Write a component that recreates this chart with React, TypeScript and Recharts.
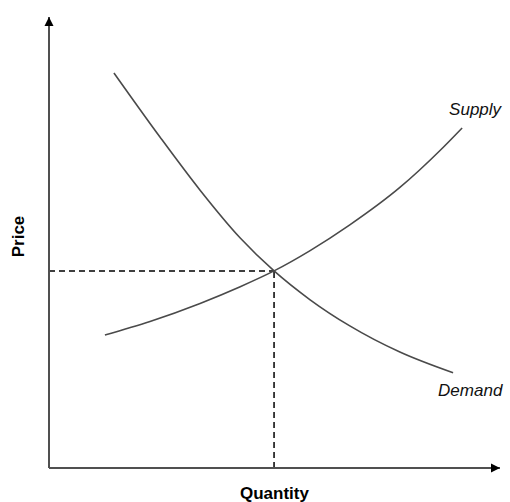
import { LineChart, Line, XAxis, YAxis, ReferenceLine, ReferenceDot } from "recharts";

// quantity/price on a 0-10 scale
const demandQty = [1.44, 2.46, 3.35, 4.24, 4.99, 5.79, 6.67, 7.78, 8.96];
const demandPrice = [8.76, 7.34, 6.16, 5.1, 4.37, 3.73, 3.15, 2.57, 2.11];
const supplyQty = [1.24, 2.24, 3.35, 4.24, 4.99, 5.79, 6.67, 7.78, 8.67, 9.16];
const supplyPrice = [2.95, 3.25, 3.65, 4.02, 4.37, 4.82, 5.39, 6.22, 7.04, 7.54];
const eqQty = 4.99;
const eqPrice = 4.37;
const axisMax = 10;

const demand = demandQty.map((q, i) => ({ q, p: demandPrice[i] }));
const supply = supplyQty.map((q, i) => ({ q, p: supplyPrice[i] }));

const FONT = "'Liberation Sans', Arial, sans-serif";
const AXIS = "#505050";

function endLabel(text: string, count: number, dx: number, dy: number, anchor: "start" | "middle") {
  return (props: any) => {
    if (props.index !== count - 1) return null;
    return (
      <text key="end" x={props.x + dx} y={props.y + dy} textAnchor={anchor} fontFamily={FONT} fontStyle="italic" fontSize={17} fill="#111">
        {text}
      </text>
    );
  };
}

function QtyLabel({ viewBox }: any) {
  return (
    <text x={viewBox.x + viewBox.width / 2} y={viewBox.y + viewBox.height - 3} textAnchor="middle" fontFamily={FONT} fontWeight="bold" fontSize={17} fill="#000">
      Quantity
    </text>
  );
}

function PriceLabel({ viewBox }: any) {
  const x = viewBox.x + 24;
  const y = viewBox.y + viewBox.height / 2 - 6;
  return (
    <text x={x} y={y} transform={`rotate(-90, ${x}, ${y})`} textAnchor="middle" fontFamily={FONT} fontWeight="bold" fontSize={17} fill="#000">
      Price
    </text>
  );
}

const UpArrow = ({ cx, cy }: any) => <path d={`M${cx},${cy} L${cx - 4.5},${cy + 9} L${cx + 4.5},${cy + 9} Z`} fill="#000" />;
const RightArrow = ({ cx, cy }: any) => <path d={`M${cx},${cy} L${cx - 9},${cy - 4.5} L${cx - 9},${cy + 4.5} Z`} fill="#000" />;

export default function App() {
  return (
    <div style={{ position: "absolute", left: 0, top: 0, width: 510, height: 502, background: "#fff" }}>
      <LineChart width={510} height={502} margin={{ top: 17, right: 10, left: 0, bottom: 0 }}>
        <XAxis
          type="number"
          dataKey="q"
          domain={[0, axisMax]}
          allowDataOverflow
          height={34}
          tick={false}
          tickLine={false}
          axisLine={{ stroke: AXIS, strokeWidth: 2 }}
          label={<QtyLabel />}
        />
        <YAxis
          type="number"
          dataKey="p"
          domain={[0, axisMax]}
          allowDataOverflow
          width={49}
          tick={false}
          tickLine={false}
          axisLine={{ stroke: AXIS, strokeWidth: 2 }}
          label={<PriceLabel />}
        />
        <ReferenceLine segment={[{ x: 0, y: eqPrice }, { x: eqQty, y: eqPrice }]} stroke="#000" strokeWidth={1.5} strokeDasharray="6 4" />
        <ReferenceLine segment={[{ x: eqQty, y: 0 }, { x: eqQty, y: eqPrice }]} stroke="#000" strokeWidth={1.5} strokeDasharray="6 4" />
        <Line
          data={demand}
          dataKey="p"
          type="monotone"
          stroke="#4a4a4a"
          strokeWidth={1.6}
          dot={false}
          isAnimationActive={false}
          label={endLabel("Demand", demand.length, -15, 23, "start")}
        />
        <Line
          data={supply}
          dataKey="p"
          type="monotone"
          stroke="#4a4a4a"
          strokeWidth={1.6}
          dot={false}
          isAnimationActive={false}
          label={endLabel("Supply", supply.length, 13, -13, "middle")}
        />
        <ReferenceDot x={0} y={axisMax} r={0} ifOverflow="visible" shape={<UpArrow />} />
        <ReferenceDot x={axisMax} y={0} r={0} ifOverflow="visible" shape={<RightArrow />} />
      </LineChart>
    </div>
  );
}
